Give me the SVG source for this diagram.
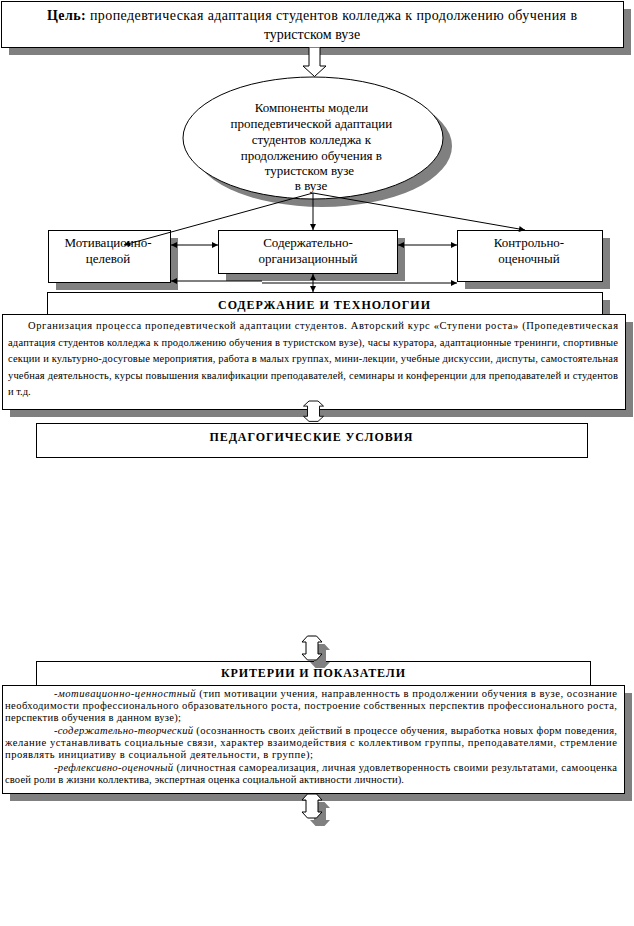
<svg xmlns="http://www.w3.org/2000/svg" width="634" height="926" viewBox="0 0 634 926">
<defs>
<marker id="ah" viewBox="0 0 10 10" refX="10" refY="5" markerWidth="8" markerHeight="6" markerUnits="userSpaceOnUse" orient="auto-start-reverse"><path d="M0,0 L10,5 L0,10 z" fill="#000"/></marker>
<path id="dblarrow" d="M-4.5,0 H4.5 L10,6 H6 V18 H10 L4.5,24 H-4.5 L-10,18 H-6 V6 H-10 Z"/>
</defs>
<style>
.box{fill:#fff;stroke:#000;stroke-width:1}
.sh{fill:#808080;stroke:none}
.t{font-family:"Liberation Serif","Times New Roman","DejaVu Serif",serif;fill:#000}
.c{text-anchor:middle}
.b{font-weight:bold}
.ln{stroke:#000;stroke-width:1;fill:none}
.arr{stroke:#000;stroke-width:1;fill:none;marker-end:url(#ah)}
.arr2{stroke:#000;stroke-width:1;fill:none;marker-end:url(#ah);marker-start:url(#ah)}
.hol{fill:#fff;stroke:#000;stroke-width:1}
.p1{font-size:10.5px}
.p2{font-size:10.6px}
</style>
<rect width="634" height="926" fill="#fff"/>

<g id="goal">
<rect class="sh" x="9" y="9" width="622" height="46"/>
<rect class="box" x="1.5" y="1.5" width="622" height="46"/>
<text class="t c" x="312" y="20" font-size="14" textLength="530"><tspan class="b">Цель:</tspan> пропедевтическая адаптация студентов колледжа к продолжению обучения в</text>
<text class="t c" x="312" y="39" font-size="14">туристском вузе</text>
</g>

<g id="components">
<ellipse class="sh" cx="322" cy="146" rx="130" ry="61"/>
<ellipse class="box" cx="313" cy="138" rx="130" ry="61"/>
<text class="t c" font-size="13">
<tspan x="313" y="112">Компоненты  модели</tspan>
<tspan x="313" y="128">пропедевтической адаптации</tspan>
<tspan x="313" y="144">студентов колледжа к</tspan>
<tspan x="313" y="160">продолжению обучения в</tspan>
<tspan x="311" y="175">туристском вузе</tspan>
<tspan x="311" y="190">в вузе</tspan>
</text>
</g>

<g id="motiv">
<rect class="sh" x="56" y="238" width="122" height="52"/>
<rect class="box" x="48.5" y="230.5" width="122" height="52"/>
<text class="t c" font-size="13"><tspan x="108" y="247">Мотивационно-</tspan><tspan x="108" y="263">целевой</tspan></text>
</g>

<g id="content-org">
<rect class="sh" x="226" y="238" width="179" height="43"/>
<rect class="box" x="218.5" y="230.5" width="179" height="43"/>
<text class="t c" font-size="13"><tspan x="308" y="247">Содержательно-</tspan><tspan x="308" y="263">организационный</tspan></text>
</g>

<g id="control">
<rect class="sh" x="465" y="238" width="145" height="51"/>
<rect class="box" x="457.5" y="230.5" width="145" height="51"/>
<text class="t c" font-size="13"><tspan x="529" y="247">Контрольно-</tspan><tspan x="529" y="263">оценочный</tspan></text>
</g>

<g id="tech-header">
<rect class="sh" x="55" y="300" width="555" height="20"/>
<rect class="box" x="47.5" y="292.5" width="555" height="25"/>
<text class="t c b" x="324" y="309" font-size="12" textLength="212">СОДЕРЖАНИЕ И ТЕХНОЛОГИИ</text>
</g>

<g id="tech-text">
<rect class="sh" x="10" y="322" width="623" height="95"/>
<rect class="box" x="2.5" y="314.5" width="623" height="95"/>
<text class="t p1" x="28" y="329" textLength="590" lengthAdjust="spacing">Организация   процесса пропедевтической адаптации студентов. Авторский курс «Ступени роста» (Пропедевтическая</text>
<text class="t p1" x="8" y="346" textLength="610" lengthAdjust="spacing">адаптация студентов колледжа к продолжению обучения в туристском вузе), часы куратора,  адаптационные тренинги, спортивные</text>
<text class="t p1" x="8" y="362" textLength="610" lengthAdjust="spacing">секции и культурно-досуговые мероприятия, работа в малых группах, мини-лекции, учебные дискуссии, диспуты,  самостоятельная</text>
<text class="t p1" x="8" y="379" textLength="610" lengthAdjust="spacing">учебная деятельность, курсы повышения квалификации преподавателей, семинары и конференции для преподавателей и студентов</text>
<text class="t p1" x="8" y="395">и т.д.</text>
</g>

<g id="conditions">
<rect class="box" x="36.5" y="423.5" width="551" height="34"/>
<text class="t c b" x="311" y="441" font-size="12" textLength="203">ПЕДАГОГИЧЕСКИЕ УСЛОВИЯ</text>
</g>

<g id="criteria-header">
<rect class="box" x="36.5" y="661.5" width="554" height="24"/>
<text class="t c b" x="313" y="677" font-size="12" textLength="184">КРИТЕРИИ И ПОКАЗАТЕЛИ</text>
</g>

<g id="criteria-text">
<rect class="sh" x="10" y="693" width="622" height="108"/>
<rect class="box" x="2.5" y="685.5" width="622" height="108"/>
<text class="t p2" x="54" y="697" textLength="563" lengthAdjust="spacing"><tspan font-style="italic">-мотивационно-ценностный</tspan> (тип мотивации учения, направленность в продолжении обучения в вузе, осознание</text>
<text class="t p2" x="5" y="709" textLength="612" lengthAdjust="spacing">необходимости профессионального образовательного роста, построение собственных перспектив профессионального роста,</text>
<text class="t p2" x="5" y="721" textLength="176" lengthAdjust="spacing">перспектив обучения в данном вузе);</text>
<text class="t p2" x="54" y="734" textLength="563" lengthAdjust="spacing"><tspan font-style="italic">-содержательно-творческий</tspan> (осознанность своих действий в процессе обучения, выработка новых форм поведения,</text>
<text class="t p2" x="5" y="746" textLength="612" lengthAdjust="spacing">желание устанавливать социальные связи, характер взаимодействия с  коллективом группы, преподавателями, стремление</text>
<text class="t p2" x="5" y="758" textLength="308" lengthAdjust="spacing">проявлять инициативу в социальной деятельности, в группе);</text>
<text class="t p2" x="54" y="771" textLength="563" lengthAdjust="spacing"><tspan font-style="italic">-рефлексивно-оценочный</tspan> (личностная самореализация, личная удовлетворенность своими результатами, самооценка</text>
<text class="t p2" x="5" y="783" textLength="399" lengthAdjust="spacing">своей роли в жизни коллектива, экспертная оценка социальной активности личности).</text>
</g>

<g id="connectors">
<path class="hol" d="M309,47.5 V66 H303 L314.5,76.5 L326,66 H320 V47.5"/>
<path class="arr" d="M313,193 L124,245"/>
<path class="arr" d="M313,193 L313,230"/>
<path class="arr" d="M313,193 L525,230"/>
<path class="arr2" d="M171,245 H218"/>
<path class="arr2" d="M398,245 H457"/>
<path class="arr2" d="M171,281 H262 M262,283 H457"/>
<path class="arr2" d="M313,274 V292"/>
<use href="#dblarrow" class="hol" transform="translate(313.5,401) scale(1,0.85)"/>
<use href="#dblarrow" class="sh" transform="translate(320,644)"/>
<use href="#dblarrow" class="hol" transform="translate(312,636)"/>
<use href="#dblarrow" class="sh" transform="translate(320,802)"/>
<use href="#dblarrow" class="hol" transform="translate(312,794)"/>
</g>
</svg>
